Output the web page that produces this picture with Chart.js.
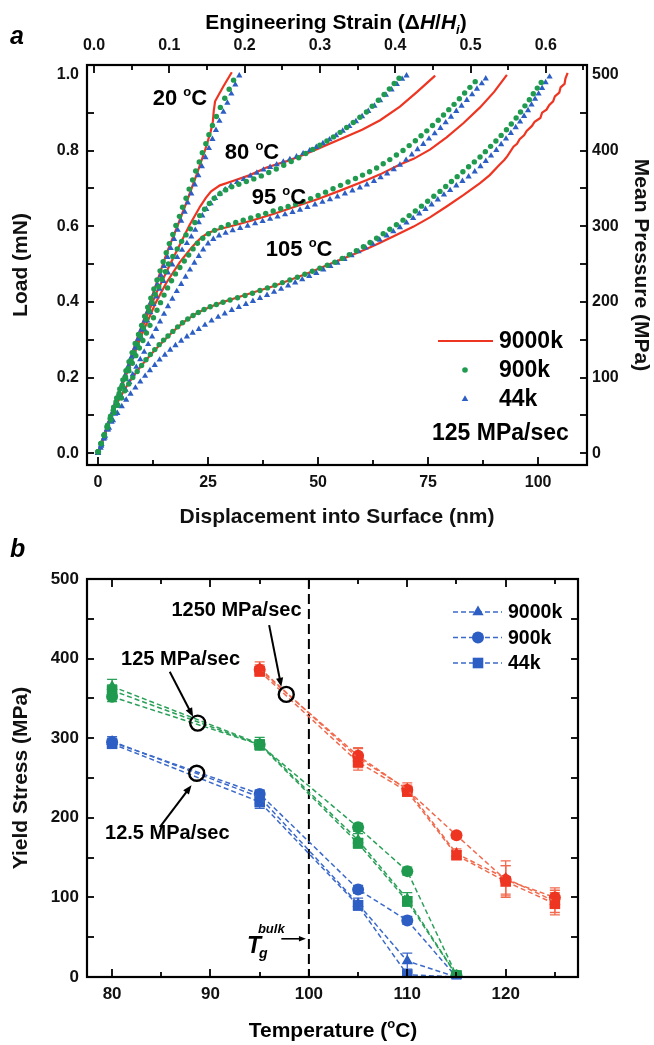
<!DOCTYPE html>
<html><head><meta charset="utf-8">
<script src="https://cdn.jsdelivr.net/npm/chart.js@4.4.1/dist/chart.umd.min.js"></script>
<style>body{margin:0;background:#fff}#wrap{position:relative;width:654px;height:1045px;overflow:hidden}canvas{position:absolute;left:0}</style>
</head><body><div id="wrap"><canvas id="ca" width="654" height="530" style="top:0"></canvas><canvas id="cb" width="654" height="515" style="top:530px"></canvas></div>
<script>
// ---------------- Panel a data: [displacement nm, load mN] ----------------
const t20_9000k = [[0,0],[2,0.07],[5,0.17],[8.5,0.29],[12,0.405],[15.6,0.529],[17.9,0.596],[20.2,0.666],[22.4,0.736],[24.3,0.8],[25.6,0.85],[26.1,0.877],[26.3,0.905],[26.6,0.93],[28.5,0.97],[30.4,1.007]];
const t20_900k = [[0.1,0.004],[0.75,0.026],[1.45,0.05],[2.15,0.074],[2.85,0.098],[3.55,0.122],[4.25,0.146],[4.95,0.17],[5.65,0.194],[6.35,0.218],[7.05,0.242],[7.75,0.266],[8.45,0.29],[9.2,0.314],[9.9,0.338],[10.6,0.362],[11.3,0.386],[12,0.41],[12.7,0.434],[13.4,0.458],[14.1,0.482],[14.8,0.506],[15.5,0.53],[16.2,0.554],[17,0.578],[17.7,0.602],[18.5,0.626],[19.2,0.65],[20,0.674],[20.7,0.698],[21.5,0.722],[22.2,0.746],[23,0.77],[23.7,0.794],[24.5,0.818],[25.2,0.842],[26,0.866],[26.9,0.89],[27.8,0.914],[28.8,0.938],[29.8,0.962],[30.8,0.986]];
const t20_44k = [[0,0],[0.6,0.014],[1.3,0.038],[2,0.062],[2.7,0.086],[3.4,0.11],[4.1,0.134],[4.8,0.158],[5.5,0.182],[6.2,0.206],[6.9,0.23],[7.6,0.254],[8.4,0.278],[9.1,0.302],[9.8,0.326],[10.6,0.35],[11.3,0.374],[12,0.398],[12.8,0.422],[13.5,0.446],[14.3,0.47],[15,0.494],[15.8,0.518],[16.5,0.542],[17.3,0.566],[18.1,0.59],[18.9,0.614],[19.7,0.638],[20.4,0.662],[21.2,0.686],[22,0.71],[22.8,0.734],[23.6,0.758],[24.4,0.782],[25.2,0.806],[26,0.83],[26.8,0.854],[27.6,0.878],[28.5,0.902],[29.4,0.926],[30.3,0.95],[31.2,0.974],[32.1,0.998]];

const t80_9000k = [[0,0],[5,0.168],[10,0.33],[13.3,0.425],[16,0.49],[17.9,0.535],[20.9,0.605],[23.2,0.652],[24.5,0.675],[25.7,0.692],[27.7,0.708],[30.8,0.72],[34.5,0.735],[38.3,0.755],[42.9,0.772],[45.9,0.785],[50,0.805],[55,0.83],[60,0.855],[64.1,0.88],[68.6,0.916],[72.5,0.955],[76.6,0.998]];
const t80_900k = [[0,0.004],[0.7,0.026],[1.4,0.048],[2.1,0.07],[2.8,0.092],[3.5,0.114],[4.1,0.136],[4.8,0.158],[5.5,0.18],[6.2,0.202],[6.9,0.224],[7.5,0.245],[8.2,0.266],[8.9,0.288],[9.6,0.31],[10.3,0.332],[11,0.354],[11.6,0.376],[12.3,0.398],[13,0.42],[13.8,0.44],[14.5,0.46],[15.3,0.48],[16,0.5],[17,0.52],[18,0.54],[19,0.56],[20,0.577],[21,0.593],[22,0.61],[23.1,0.628],[24.2,0.645],[25.3,0.66],[26.4,0.674],[27.7,0.686],[29,0.696],[30.4,0.704],[32,0.711],[33.7,0.718],[35.4,0.725],[37.1,0.733],[38.8,0.742],[40.5,0.751],[42.2,0.761],[43.9,0.771],[45.6,0.781],[47.2,0.792],[48.8,0.803],[50.4,0.814],[52,0.825],[53.5,0.836],[55,0.848],[56.5,0.861],[58,0.874],[59.5,0.888],[61,0.902],[62.3,0.917],[63.7,0.933],[65,0.948],[66.2,0.963],[67.3,0.977],[68.4,0.991]];
const t80_44k = [[0,0],[0.7,0.02],[1.4,0.042],[2.1,0.064],[2.8,0.086],[3.5,0.108],[4.2,0.13],[4.9,0.152],[5.6,0.174],[6.3,0.196],[7,0.218],[7.7,0.24],[8.4,0.262],[9.1,0.284],[9.8,0.306],[10.5,0.328],[11.2,0.35],[11.9,0.372],[12.6,0.394],[13.3,0.414],[14,0.434],[14.9,0.455],[15.9,0.477],[16.9,0.498],[18,0.518],[19.1,0.537],[20.2,0.555],[21.2,0.572],[22.1,0.59],[22.9,0.61],[23.7,0.628],[24.6,0.645],[25.6,0.66],[26.6,0.674],[27.7,0.686],[28.9,0.697],[30.2,0.707],[31.6,0.716],[33.1,0.724],[34.6,0.733],[36.1,0.741],[37.6,0.749],[39.1,0.756],[40.6,0.763],[42.1,0.77],[43.6,0.777],[45.1,0.784],[46.6,0.792],[48.1,0.8],[49.6,0.809],[51.1,0.819],[52.6,0.829],[54.1,0.84],[55.6,0.852],[57.1,0.864],[58.6,0.877],[60,0.89],[61.4,0.904],[62.8,0.918],[64.1,0.932],[65.4,0.947],[66.7,0.961],[67.9,0.975],[69.1,0.989],[70.1,0.998]];

const t95_9000k = [[0,0],[5,0.165],[10,0.315],[13,0.395],[15.5,0.45],[18.6,0.505],[21,0.54],[22.4,0.558],[23.6,0.571],[25,0.582],[26.8,0.59],[30.8,0.602],[35,0.615],[40,0.633],[45.9,0.656],[50,0.672],[55,0.694],[61.1,0.722],[64.1,0.737],[68.6,0.763],[71.7,0.778],[75.5,0.803],[79.2,0.835],[83,0.872],[86.8,0.914],[90,0.955],[92.9,1.0]];
const t95_900k = [[0,0.004],[0.7,0.026],[1.4,0.048],[2.1,0.07],[2.8,0.092],[3.5,0.113],[4.2,0.134],[4.9,0.155],[5.6,0.176],[6.3,0.197],[7,0.218],[7.8,0.238],[8.6,0.258],[9.4,0.278],[10.2,0.298],[11,0.318],[11.8,0.338],[12.6,0.358],[13.4,0.378],[14.2,0.398],[15,0.418],[15.8,0.437],[16.7,0.456],[17.6,0.474],[18.6,0.491],[19.6,0.508],[20.6,0.524],[21.6,0.54],[22.6,0.555],[23.8,0.568],[25.1,0.58],[26.5,0.589],[28,0.597],[29.6,0.604],[31.3,0.61],[33,0.616],[34.7,0.622],[36.4,0.628],[38.1,0.634],[39.8,0.64],[41.5,0.646],[43.2,0.652],[44.9,0.658],[46.6,0.665],[48.3,0.673],[50,0.681],[51.7,0.69],[53.4,0.699],[55.1,0.708],[56.8,0.717],[58.5,0.726],[60.1,0.735],[61.7,0.744],[63.3,0.754],[64.8,0.765],[66.3,0.776],[67.8,0.788],[69.3,0.8],[70.7,0.813],[72.1,0.826],[73.4,0.839],[74.7,0.852],[76,0.866],[77.3,0.88],[78.5,0.894],[79.7,0.908],[80.9,0.922],[82.1,0.937],[83.3,0.952],[84.5,0.967],[85.7,0.982]];
const t95_44k = [[0,0],[0.7,0.02],[1.5,0.041],[2.3,0.062],[3.1,0.083],[3.9,0.104],[4.7,0.125],[5.5,0.146],[6.3,0.167],[7.1,0.188],[7.9,0.208],[8.7,0.228],[9.6,0.248],[10.5,0.268],[11.4,0.288],[12.3,0.308],[13.2,0.328],[14.1,0.348],[15,0.368],[15.9,0.388],[16.9,0.408],[17.9,0.428],[18.9,0.447],[19.9,0.466],[20.9,0.485],[21.9,0.503],[22.9,0.521],[23.9,0.538],[25,0.554],[26.2,0.566],[27.5,0.575],[29,0.582],[30.6,0.589],[32.3,0.595],[34,0.601],[35.7,0.607],[37.4,0.613],[39.1,0.619],[40.8,0.625],[42.5,0.631],[44.2,0.637],[45.9,0.643],[47.6,0.65],[49.3,0.657],[51,0.664],[52.7,0.671],[54.4,0.678],[56.1,0.686],[57.8,0.694],[59.5,0.702],[61.1,0.71],[62.7,0.719],[64.2,0.729],[65.7,0.739],[67.2,0.75],[68.6,0.762],[70,0.775],[71.3,0.789],[72.6,0.803],[73.9,0.817],[75.2,0.831],[76.5,0.845],[77.8,0.859],[79,0.874],[80.2,0.889],[81.4,0.904],[82.6,0.918],[83.8,0.933],[85,0.948],[86.1,0.963],[87.2,0.977],[88.1,0.99]];

const t105_9000k = [[0,0],[2,0.065],[4,0.125],[6,0.168],[8,0.203],[10,0.234],[12,0.261],[14,0.286],[16,0.31],[18,0.332],[20,0.351],[22,0.367],[24,0.379],[26,0.389],[28.5,0.4],[32,0.413],[36.1,0.428],[40,0.442],[43.6,0.458],[47.5,0.475],[51.2,0.493],[55,0.511],[58.8,0.529],[62,0.545],[64.1,0.556],[68,0.578],[71.7,0.599],[75.5,0.624],[79.2,0.652],[83,0.682],[86.8,0.714],[89,0.735],[91,0.76],[92.3,0.775],[93,0.785],[94.4,0.81],[95.2,0.818],[95.8,0.83],[96.8,0.84],[97.4,0.852],[98.6,0.865],[99.2,0.876],[100.5,0.886],[100.9,0.9],[101.9,0.908],[102.5,0.92],[103.4,0.93],[103.8,0.943],[104.8,0.953],[105.1,0.967],[106,0.976],[106.2,0.99],[106.7,1.005]];
const t105_900k = [[0,0.004],[0.7,0.026],[1.4,0.047],[2.1,0.068],[2.9,0.088],[3.7,0.108],[4.5,0.127],[5.3,0.146],[6.1,0.165],[7,0.183],[7.9,0.2],[8.9,0.216],[9.9,0.232],[10.9,0.247],[11.9,0.261],[12.9,0.274],[13.9,0.287],[14.9,0.299],[15.9,0.31],[17,0.322],[18.1,0.334],[19.2,0.345],[20.4,0.355],[21.6,0.364],[22.8,0.372],[24.1,0.38],[25.5,0.387],[26.9,0.393],[28.4,0.399],[30,0.405],[31.7,0.411],[33.4,0.417],[35.1,0.423],[36.8,0.43],[38.5,0.437],[40.2,0.444],[41.9,0.451],[43.6,0.458],[45.3,0.465],[47,0.473],[48.7,0.481],[50.4,0.489],[52.1,0.497],[53.8,0.505],[55.5,0.515],[57.1,0.525],[58.7,0.535],[60.3,0.546],[61.8,0.557],[63.3,0.568],[64.8,0.58],[66.3,0.592],[67.8,0.604],[69.3,0.616],[70.7,0.628],[72.1,0.64],[73.5,0.653],[74.9,0.666],[76.3,0.679],[77.7,0.692],[79,0.705],[80.3,0.718],[81.6,0.731],[82.9,0.744],[84.2,0.757],[85.5,0.77],[86.8,0.783],[88,0.797],[89.2,0.811],[90.4,0.825],[91.6,0.84],[92.8,0.855],[93.9,0.87],[95,0.886],[96,0.902],[97,0.918],[98,0.934],[98.9,0.95],[99.8,0.965],[100.7,0.98]];
const t105_44k = [[0,0],[0.8,0.024],[1.6,0.046],[2.5,0.067],[3.4,0.087],[4.4,0.106],[5.4,0.124],[6.4,0.141],[7.4,0.157],[8.5,0.173],[9.6,0.189],[10.7,0.204],[11.8,0.219],[12.9,0.233],[14,0.247],[15.2,0.26],[16.4,0.273],[17.6,0.285],[18.9,0.297],[20.2,0.308],[21.5,0.318],[22.9,0.328],[24.3,0.339],[25.8,0.35],[27.3,0.36],[28.8,0.369],[30.4,0.378],[32,0.386],[33.6,0.394],[35.2,0.402],[36.8,0.41],[38.4,0.418],[40,0.426],[41.6,0.434],[43.2,0.443],[44.8,0.451],[46.4,0.459],[48,0.468],[49.6,0.476],[51.2,0.485],[52.8,0.494],[54.4,0.503],[56,0.513],[57.6,0.523],[59.2,0.533],[60.8,0.543],[62.4,0.553],[64,0.564],[65.6,0.575],[67.1,0.586],[68.6,0.597],[70.1,0.609],[71.6,0.621],[73,0.633],[74.4,0.645],[75.8,0.657],[77.2,0.67],[78.6,0.683],[80,0.695],[81.4,0.707],[82.8,0.719],[84.2,0.731],[85.6,0.744],[86.9,0.758],[88.1,0.772],[89.3,0.786],[90.5,0.801],[91.6,0.816],[92.7,0.831],[93.8,0.846],[94.9,0.861],[95.9,0.876],[96.8,0.891],[97.7,0.906],[98.5,0.921],[99.3,0.936],[100.1,0.95],[100.9,0.965],[101.7,0.98],[102.6,0.995]];

const curveTemps = ['20','80','95','105'];
const curveLabelPos = [[18.6,0.942],[35,0.799],[41.1,0.68],[45.7,0.543]];

// tick values / labels, panel a
const dispTicks = [0,25,50,75,100];
const dispMinor = [12.5,37.5,62.5,87.5];
const strainTicks = [0,0.1,0.2,0.3,0.4,0.5,0.6];
const strainMinor = [0.05,0.15,0.25,0.35,0.45,0.55,0.65];
const loadTicks = [0,0.2,0.4,0.6,0.8,1.0];
const loadMinor = [0.1,0.3,0.5,0.7,0.9];
const pressTicks = [0,100,200,300,400,500];
const pressMinor = [50,150,250,350,450];

// ---------------- Panel b data: yield stress (MPa) vs temperature ----------------
const tempsRed = [95,105,110,115,120,125];
const red9000k = [388,275,236,155,124,95];
const red900k  = [386,278,235,178,122,100];
const red44k   = [384,270,233,153,120,92];
const red9000kErr = [8,12,8,6,22,14];
const red900kErr  = [6,10,6,4,18,12];
const red44kErr   = [6,10,6,5,20,14];
const tempsGB = [80,95,105,110,115];
const green9000k = [365,293,172,98,2];
const green900k  = [352,292,188,133,2];
const green44k   = [360,292,168,95,2];
const green9000kErr = [9,8,8,8,3];
const green900kErr  = [6,5,5,5,2];
const green44kErr   = [7,6,6,6,2];
const blue9000k = [296,226,92,20,0];
const blue900k  = [295,230,110,71,0];
const blue44k   = [293,220,90,3,0];
const blue9000kErr = [6,8,7,10,2];
const blue900kErr  = [5,5,5,5,2];
const blue44kErr   = [5,8,6,3,2];
const rateNames = ['1250 MPa/sec','125 MPa/sec','12.5 MPa/sec'];
const rateCircleT = [97.7,88.7,88.6];
const rateCircleY = [355,319,256];
const tempTicks = [80,90,100,110,120];
const tempMinor = [85,95,105,115,125];
const stressTicks = [0,100,200,300,400,500];
const stressMinor = [50,150,250,350,450];
const tgBulk = 100;

// ---------------- styling ----------------
const FF = '"Liberation Sans", Arial, Helvetica, sans-serif';
const fnt = (s, st) => (st || 'bold') + ' ' + s + 'px ' + FF;
const RED = '#ee3522', GREEN = '#1f9a4e', BLUE = '#2d5ec4';
const REDL = '#f26a4e', GREENL = '#2aa058', BLUEL = '#3b69ca';

function pts(a){ return a.map(p => ({x:p[0], y:p[1]})); }
function series(ts, vs){ return ts.map((t,i) => ({x:t, y:vs[i]})); }

function drawRich(ctx, parts, x, y, align){
  let w = 0;
  for (const p of parts){ ctx.font = p.f; w += ctx.measureText(p.t).width; }
  let cx = align === 'center' ? x - w/2 : (align === 'right' ? x - w : x);
  ctx.textAlign = 'left'; ctx.textBaseline = 'alphabetic';
  for (const p of parts){ ctx.font = p.f; ctx.fillText(p.t, cx, y + (p.dy || 0)); cx += ctx.measureText(p.t).width; }
}
function arrow(ctx, x1, y1, x2, y2, head){
  const ang = Math.atan2(y2-y1, x2-x1);
  ctx.beginPath(); ctx.moveTo(x1,y1); ctx.lineTo(x2 - Math.cos(ang)*head*0.6, y2 - Math.sin(ang)*head*0.6); ctx.stroke();
  ctx.beginPath(); ctx.moveTo(x2,y2);
  ctx.lineTo(x2 - head*Math.cos(ang) + head*0.4*Math.sin(ang), y2 - head*Math.sin(ang) - head*0.4*Math.cos(ang));
  ctx.lineTo(x2 - head*Math.cos(ang) - head*0.4*Math.sin(ang), y2 - head*Math.sin(ang) + head*0.4*Math.cos(ang));
  ctx.closePath(); ctx.fill();
}

// frame + inward ticks
const frameTicks = {
  id: 'frameTicks',
  afterDatasetsDraw(chart, args, opts){
    const {ctx, chartArea: a, scales} = chart;
    ctx.save();
    ctx.strokeStyle = '#000'; ctx.lineWidth = 1.8; ctx.setLineDash([]);
    for (const t of opts.specs){
      const s = scales[t.scale];
      for (const v of t.values){
        const p = Math.round(s.getPixelForValue(v)) + 0.0;
        if (p < a.left - 1 || p > a.right + 1 || (t.side==='left'||t.side==='right') && (p < a.top - 1 || p > a.bottom + 1)) continue;
        ctx.beginPath();
        if (t.side === 'bottom'){ ctx.moveTo(p, a.bottom); ctx.lineTo(p, a.bottom - t.len); }
        else if (t.side === 'top'){ ctx.moveTo(p, a.top); ctx.lineTo(p, a.top + t.len); }
        else if (t.side === 'left'){ ctx.moveTo(a.left, p); ctx.lineTo(a.left + t.len, p); }
        else { ctx.moveTo(a.right, p); ctx.lineTo(a.right - t.len, p); }
        ctx.stroke();
      }
    }
    ctx.lineWidth = 2.2;
    ctx.strokeRect(a.left, a.top, a.right - a.left, a.bottom - a.top);
    ctx.restore();
  }
};

const errorBars = {
  id: 'errorBars',
  beforeDatasetsDraw(chart){
    const {ctx} = chart; const ys = chart.scales.y;
    ctx.save(); ctx.lineWidth = 1.3;
    chart.data.datasets.forEach((ds, i) => {
      if (!ds.errs) return;
      const meta = chart.getDatasetMeta(i);
      ctx.strokeStyle = ds.borderColor;
      meta.data.forEach((el, j) => {
        const e = ds.errs[j]; if (!e) return;
        const v = ds.data[j].y;
        const y1 = ys.getPixelForValue(v + e), y2 = ys.getPixelForValue(v - e);
        ctx.beginPath();
        ctx.moveTo(el.x, y1); ctx.lineTo(el.x, y2);
        ctx.moveTo(el.x - 5, y1); ctx.lineTo(el.x + 5, y1);
        ctx.moveTo(el.x - 5, y2); ctx.lineTo(el.x + 5, y2);
        ctx.stroke();
      });
    });
    ctx.restore();
  }
};

// ---------------- Panel a ----------------
const annotA = {
  id: 'annotA',
  afterDraw(chart){
    const {ctx, scales: {x, y}} = chart;
    ctx.save(); ctx.fillStyle = '#000';
    // panel letter
    ctx.font = fnt(25, 'italic bold'); ctx.textAlign='left'; ctx.textBaseline='alphabetic';
    ctx.fillText('a', 10, 44);
    // top axis title
    drawRich(ctx, [
      {t:'Engineering Strain (\u0394', f:fnt(21)},
      {t:'H', f:fnt(21,'italic bold')},
      {t:'/', f:fnt(21)},
      {t:'H', f:fnt(21,'italic bold')},
      {t:'i', f:fnt(13,'italic bold'), dy:5},
      {t:')', f:fnt(21)}
    ], 336, 29, 'center');
    // temperature labels
    curveTemps.forEach((t, i) => {
      const px = x.getPixelForValue(curveLabelPos[i][0]), py = y.getPixelForValue(curveLabelPos[i][1]);
      drawRich(ctx, [{t:t+' ', f:fnt(22)}, {t:'o', f:fnt(13), dy:-9}, {t:'C', f:fnt(22)}], px, py + 8, 'center');
    });
    // legend
    ctx.strokeStyle = RED; ctx.lineWidth = 2.2;
    ctx.beginPath(); ctx.moveTo(438, 341); ctx.lineTo(493, 341); ctx.stroke();
    ctx.fillStyle = GREEN;
    Chart.helpers.drawPoint(ctx, {pointStyle:'circle', radius:2.8, borderWidth:0, rotation:0}, 465, 370);
    ctx.fillStyle = BLUE;
    Chart.helpers.drawPoint(ctx, {pointStyle:'triangle', radius:3.8, borderWidth:0, rotation:0}, 465, 399);
    ctx.fillStyle = '#000'; ctx.font = fnt(23); ctx.textAlign='left'; ctx.textBaseline='middle';
    ctx.fillText('9000k', 499, 342);
    ctx.fillText('900k', 499, 371);
    ctx.fillText('44k', 499, 400);
    ctx.fillText('125 MPa/sec', 432, 434);
    ctx.restore();
  }
};

const tickFontA = {size:16, weight:'bold', family:FF};
const titleFontA = {size:21, weight:'bold', family:FF};
const setTicks = arr => s => { s.ticks = arr.map(v => ({value:v})); };

new Chart(document.getElementById('ca'), {
  type: 'scatter',
  data: { datasets: [
    {data:pts(t20_9000k), showLine:true, borderColor:RED, borderWidth:2.2, pointRadius:0, order:3},
    {data:pts(t80_9000k), showLine:true, borderColor:RED, borderWidth:2.2, pointRadius:0, order:3},
    {data:pts(t95_9000k), showLine:true, borderColor:RED, borderWidth:2.2, pointRadius:0, order:3},
    {data:pts(t105_9000k), showLine:true, borderColor:RED, borderWidth:2.2, pointRadius:0, order:3},
    {data:pts(t20_44k), pointStyle:'triangle', pointRadius:3.6, backgroundColor:BLUE, borderWidth:0, order:2},
    {data:pts(t80_44k), pointStyle:'triangle', pointRadius:3.6, backgroundColor:BLUE, borderWidth:0, order:2},
    {data:pts(t95_44k), pointStyle:'triangle', pointRadius:3.6, backgroundColor:BLUE, borderWidth:0, order:2},
    {data:pts(t105_44k), pointStyle:'triangle', pointRadius:3.6, backgroundColor:BLUE, borderWidth:0, order:2},
    {data:pts(t20_900k), pointStyle:'circle', pointRadius:2.7, backgroundColor:GREEN, borderWidth:0, order:1},
    {data:pts(t80_900k), pointStyle:'circle', pointRadius:2.7, backgroundColor:GREEN, borderWidth:0, order:1},
    {data:pts(t95_900k), pointStyle:'circle', pointRadius:2.7, backgroundColor:GREEN, borderWidth:0, order:1},
    {data:pts(t105_900k), pointStyle:'circle', pointRadius:2.7, backgroundColor:GREEN, borderWidth:0, order:1}
  ]},
  options: {
    responsive:false, animation:false, devicePixelRatio:1, events:[],
    layout:{padding:0},
    plugins:{legend:{display:false}, tooltip:{enabled:false},
      frameTicks:{specs:[
        {scale:'x', side:'bottom', values:dispTicks, len:8},
        {scale:'x', side:'bottom', values:dispMinor, len:5},
        {scale:'x2', side:'top', values:strainTicks, len:8},
        {scale:'x2', side:'top', values:strainMinor, len:5},
        {scale:'y', side:'left', values:loadTicks, len:7},
        {scale:'y', side:'left', values:loadMinor, len:7},
        {scale:'y2', side:'right', values:pressTicks, len:7},
        {scale:'y2', side:'right', values:pressMinor, len:7}
      ]}},
    scales:{
      x:{type:'linear', position:'bottom', min:-2.5, max:111.1,
        afterBuildTicks:setTicks(dispTicks), afterFit:s=>{s.height=65;},
        grid:{display:false, drawTicks:false}, border:{display:false},
        ticks:{font:tickFontA, color:'#111', padding:8, maxRotation:0, callback:v=>String(v)},
        title:{display:true, text:'Displacement into Surface (nm)', font:titleFontA, color:'#111', padding:{top:0,bottom:0}}},
      x2:{type:'linear', position:'top', min:-0.0093, max:0.6547,
        afterBuildTicks:setTicks(strainTicks), afterFit:s=>{s.height=65;},
        grid:{display:false, drawTicks:false}, border:{display:false},
        ticks:{font:tickFontA, color:'#111', padding:10, maxRotation:0, callback:v=>v.toFixed(1)}},
      y:{type:'linear', position:'left', min:-0.031, max:1.026,
        afterBuildTicks:setTicks(loadTicks), afterFit:s=>{s.width=87;},
        grid:{display:false, drawTicks:false}, border:{display:false},
        ticks:{font:tickFontA, color:'#111', padding:8, callback:v=>v.toFixed(1)},
        title:{display:true, text:'Load (mN)', font:titleFontA, color:'#111', padding:{top:9,bottom:0}}},
      y2:{type:'linear', position:'right', min:-15.5, max:513,
        afterBuildTicks:setTicks(pressTicks), afterFit:s=>{s.width=67;},
        grid:{display:false, drawTicks:false}, border:{display:false},
        ticks:{font:tickFontA, color:'#111', padding:5, callback:v=>String(v)},
        title:{display:true, text:'Mean Pressure (MPa)', font:titleFontA, color:'#111', padding:{top:1,bottom:0}}}
    }
  },
  plugins:[frameTicks, annotA]
});

// ---------------- Panel b ----------------
const annotB = {
  id: 'annotB',
  beforeDatasetsDraw(chart){
    const {ctx, chartArea:a, scales:{x}} = chart;
    const px = x.getPixelForValue(tgBulk);
    ctx.save(); ctx.strokeStyle = '#000'; ctx.lineWidth = 2; ctx.setLineDash([10,5]);
    ctx.beginPath(); ctx.moveTo(px, a.top); ctx.lineTo(px, a.bottom); ctx.stroke();
    ctx.restore();
  },
  afterDraw(chart){
    const {ctx, scales:{x, y}} = chart;
    const P = (t, v) => [x.getPixelForValue(t), y.getPixelForValue(v)];
    ctx.save(); ctx.fillStyle = '#000'; ctx.strokeStyle = '#000';
    ctx.font = fnt(25, 'italic bold'); ctx.textAlign='left'; ctx.textBaseline='alphabetic';
    ctx.fillText('b', 10, 27);
    // axis title
    drawRich(ctx, [{t:'Temperature (', f:fnt(21)}, {t:'o', f:fnt(13), dy:-9}, {t:'C)', f:fnt(21)}], 333, 507, 'center');
    // rate labels + arrows
    ctx.font = fnt(20); ctx.textAlign='center'; ctx.textBaseline='middle';
    const labelPos = [[92.64,461],[86.96,399],[85.61,180.5]];
    const arrows = [[[95.96,442],[97.2,364.5]],[[85.86,383.4],[88.23,326.8]],[[84.85,188.4],[88.07,240.9]]];
    rateNames.forEach((n, i) => {
      const [lx, ly] = P(labelPos[i][0], labelPos[i][1]);
      ctx.fillText(n, lx, ly);
      const [a1, a2] = arrows[i];
      const p1 = P(a1[0], a1[1]), p2 = P(a2[0], a2[1]);
      ctx.lineWidth = 2; arrow(ctx, p1[0], p1[1], p2[0], p2[1], 9);
    });
    // Tg bulk
    const [tx, ty] = P(93.7, 29.6);
    drawRich(ctx, [{t:'T', f:fnt(23,'italic bold')}], tx, ty, 'left');
    drawRich(ctx, [{t:'g', f:fnt(14,'italic bold')}], tx + 12, ty + 5, 'left');
    drawRich(ctx, [{t:'bulk', f:fnt(13,'italic bold')}], tx + 11, ty - 20, 'left');
    const q1 = P(97.2, 48), q2 = P(99.7, 48);
    ctx.lineWidth = 1.6; arrow(ctx, q1[0], q1[1], q2[0], q2[1], 7);
    // legend
    const leg = [['triangle',6.5,'9000k'],['circle',6,'900k'],['rect',7.5,'44k']];
    leg.forEach((l, i) => {
      const yy = 82 + i*25.5;
      ctx.strokeStyle = BLUEL; ctx.lineWidth = 1.6; ctx.setLineDash([5,3]);
      ctx.beginPath(); ctx.moveTo(453, yy); ctx.lineTo(502, yy); ctx.stroke();
      ctx.setLineDash([]);
      ctx.fillStyle = BLUE;
      Chart.helpers.drawPoint(ctx, {pointStyle:l[0], radius:l[1], borderWidth:0, rotation:0}, 478, yy);
      ctx.fillStyle = '#000'; ctx.font = fnt(19.5); ctx.textAlign='left'; ctx.textBaseline='middle';
      ctx.fillText(l[2], 508, yy + 1);
    });
    ctx.restore();
  }
};

function lineSet(ts, vs, errs, col, lcol, style, r){
  return {data:series(ts, vs), errs:errs, showLine:true, borderColor:lcol, borderWidth:1.5, borderDash:[5,3],
    pointStyle:style, pointRadius:r, pointBackgroundColor:col, pointBorderColor:col, pointBorderWidth:0, order:2};
}
const tickFontB = {size:17, weight:'bold', family:FF};

new Chart(document.getElementById('cb'), {
  type:'scatter',
  data:{ datasets:[
    lineSet(tempsRed, red9000k, red9000kErr, RED, REDL, 'triangle', 6.5),
    lineSet(tempsRed, red900k, red900kErr, RED, REDL, 'circle', 6),
    lineSet(tempsRed, red44k, red44kErr, RED, REDL, 'rect', 7.5),
    lineSet(tempsGB, green9000k, green9000kErr, GREEN, GREENL, 'triangle', 6.5),
    lineSet(tempsGB, green900k, green900kErr, GREEN, GREENL, 'circle', 6),
    lineSet(tempsGB, green44k, green44kErr, GREEN, GREENL, 'rect', 7.5),
    lineSet(tempsGB, blue9000k, blue9000kErr, BLUE, BLUEL, 'triangle', 6.5),
    lineSet(tempsGB, blue900k, blue900kErr, BLUE, BLUEL, 'circle', 6),
    lineSet(tempsGB, blue44k, blue44kErr, BLUE, BLUEL, 'rect', 7.5),
    {data:series(rateCircleT, rateCircleY), showLine:false, pointStyle:'circle', pointRadius:7.5,
      pointBackgroundColor:'rgba(255,255,255,0)', pointBorderColor:'#000', pointBorderWidth:2.4, order:0}
  ]},
  options:{
    responsive:false, animation:false, devicePixelRatio:1, events:[],
    layout:{padding:{top:49, right:76, left:0, bottom:0}},
    plugins:{legend:{display:false}, tooltip:{enabled:false},
      frameTicks:{specs:[
        {scale:'x', side:'bottom', values:tempTicks, len:8},
        {scale:'x', side:'bottom', values:tempMinor, len:5},
        {scale:'x', side:'top', values:tempTicks, len:8},
        {scale:'x', side:'top', values:tempMinor, len:5},
        {scale:'y', side:'left', values:stressTicks, len:7},
        {scale:'y', side:'left', values:stressMinor, len:7},
        {scale:'y', side:'right', values:stressTicks, len:7},
        {scale:'y', side:'right', values:stressMinor, len:7}
      ]}},
    scales:{
      x:{type:'linear', position:'bottom', min:77.45, max:127.35,
        afterBuildTicks:setTicks(tempTicks), afterFit:s=>{s.height=68;},
        grid:{display:false, drawTicks:false}, border:{display:false},
        ticks:{font:tickFontB, color:'#111', padding:7, maxRotation:0, callback:v=>String(v)}},
      y:{type:'linear', position:'left', min:0, max:500,
        afterBuildTicks:setTicks(stressTicks), afterFit:s=>{s.width=87;},
        grid:{display:false, drawTicks:false}, border:{display:false},
        ticks:{font:tickFontB, color:'#111', padding:8, callback:v=>String(v)},
        title:{display:true, text:'Yield Stress (MPa)', font:titleFontA, color:'#111', padding:{top:9,bottom:0}}}
    }
  },
  plugins:[errorBars, frameTicks, annotB]
});
</script>
</body></html>
